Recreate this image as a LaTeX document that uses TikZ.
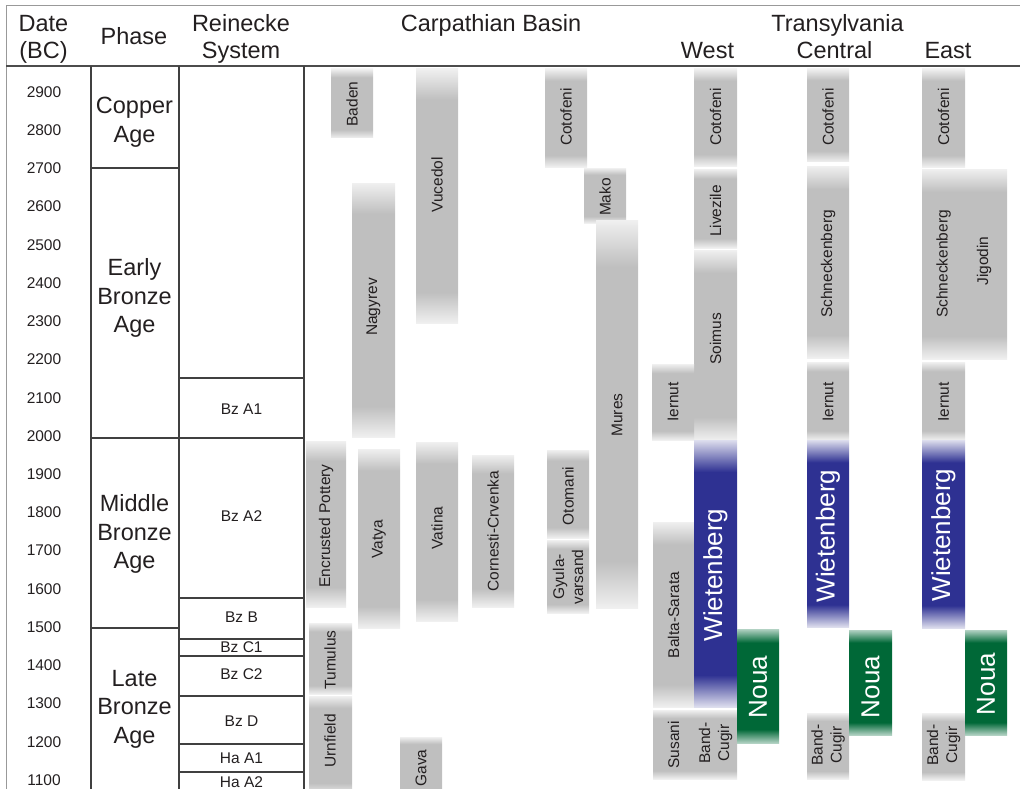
\documentclass[tikz,border=0pt]{standalone}
\usepackage{fontspec}
\setmainfont{Liberation Sans}
\usetikzlibrary{positioning}

\definecolor{txt}{RGB}{35,31,32}
\definecolor{wblue}{RGB}{46,49,146}
\definecolor{ngreen}{RGB}{0,104,55}
\colorlet{grayend}{gray!12}
\colorlet{graymid}{gray!50}
\colorlet{blueend}{wblue!16}
\colorlet{greenend}{ngreen!30}

\pgfdeclareverticalshading{grayfade}{100bp}{color(0bp)=(grayend); color(25bp)=(grayend); color(31bp)=(graymid); color(69bp)=(graymid); color(75bp)=(grayend); color(100bp)=(grayend)}
\pgfdeclareverticalshading{bluefade}{100bp}{color(0bp)=(blueend); color(25bp)=(blueend); color(31bp)=(wblue); color(69bp)=(wblue); color(75bp)=(blueend); color(100bp)=(blueend)}
\pgfdeclareverticalshading{greenfade}{100bp}{color(0bp)=(greenend); color(25bp)=(greenend); color(31bp)=(ngreen); color(69bp)=(ngreen); color(75bp)=(greenend); color(100bp)=(greenend)}

\begin{document}
\begin{tikzpicture}[x=1pt,y=-1pt,
  grid/.style={draw=black!75,line width=1.1pt},
  frame/.style={draw=black!40,line width=0.8pt},
  culture/.style={shading=grayfade},
  wbox/.style={shading=bluefade},
  nbox/.style={shading=greenfade},
  lbl/.style={rotate=90,font=\fontsize{15.5}{19}\selectfont,text=txt,align=center,inner sep=0pt},
  biglbl/.style={rotate=90,font=\fontsize{26}{30}\selectfont,text=white,inner sep=0pt},
  head/.style={font=\fontsize{23.5}{27}\selectfont,text=txt,align=center,inner sep=0pt},
  phase/.style={font=\fontsize{23.5}{28.5}\selectfont,text=txt,align=center,inner sep=0pt},
  small/.style={font=\fontsize{15.5}{19}\selectfont,text=txt,inner sep=0pt}]
  \useasboundingbox (0,0) rectangle (1020,789);

  % frame and header
  \draw[frame] (6,800) -- (6,5) -- (1020,5);
  \draw[draw=black!70,line width=1.6pt] (6,66) -- (1020,66);
  \node[head] (date) at (43.5,39) {Date\\(BC)};
  \node[head,anchor=base] (phase) at (134,45) {Phase};
  \node[head] (reinecke) at (241,39) {Reinecke\\System};
  \node[head,anchor=base] (basin) at (491,31.5) {Carpathian Basin};
  \node[head,anchor=base] (transylvania) at (837.5,31.5) {Transylvania};
  \node[head,anchor=base] (west) at (707.5,59) {West};
  \node[head,anchor=base] (central) at (834.5,59) {Central};
  \node[head,anchor=base] (east) at (948,59) {East};

  % dates
  \foreach \yr in {2900,2800,...,1100}
    \node[small] (d\yr) at (44,{92+(2900-\yr)*0.3822}) {\yr};

  % phases
  \draw[grid] (91,66) -- (91,800);
  \draw[grid] (179,66) -- (179,800);
  \draw[grid] (304,66) -- (304,800);
  \draw[grid] (91,168) -- (179,168);
  \draw[grid] (91,438) -- (179,438);
  \draw[grid] (91,628) -- (179,628);
  \node[phase] (copper) at (134.5,122) {Copper\\Age};
  \node[phase] (early) at (134.5,298) {Early\\Bronze\\Age};
  \node[phase] (middle) at (134.5,534) {Middle\\Bronze\\Age};
  \node[phase] (late) at (134.5,709) {Late\\Bronze\\Age};

  % Reinecke
  \foreach \yy in {378,438,598,639,656,696,744,772}
    \draw[grid] (179,\yy) -- (304,\yy);
  \node[small] (bza1) at (241.5,409) {Bz A1};
  \node[small] (bza2) at (241.5,516) {Bz A2};
  \node[small] (bzb) at (241.5,617) {Bz B};
  \node[small] (bzc1) at (241.5,647.5) {Bz C1};
  \node[small] (bzc2) at (241.5,674) {Bz C2};
  \node[small] (bzd) at (241.5,721) {Bz D};
  \node[small] (haa1) at (241.5,758) {Ha A1};
  \node[small] (haa2) at (241.5,782) {Ha A2};

  % Carpathian Basin
  \shade[culture] (331,69) rectangle (373,138);  \node[lbl] (baden) at (352,104) {Baden};
  \shade[culture] (416,69) rectangle (458,323);  \node[lbl] (vucedol) at (437,185) {Vucedol};
  \shade[culture] (352,183) rectangle (395,437); \node[lbl] (nagyrev) at (373.5,307) {Nagyrev};
  \shade[culture] (545,69) rectangle (587,167);  \node[lbl] (cotofeniCB) at (566,117) {Cotofeni};
  \shade[culture] (584,168) rectangle (626,223); \node[lbl] (mako) at (605,197) {Mako};
  \shade[culture] (596,220) rectangle (638,608); \node[lbl] (mures) at (617,415) {Mures};
  \shade[culture] (306,441) rectangle (346,607); \node[lbl] (encrusted) at (326,526) {Encrusted Pottery};
  \shade[culture] (358,449) rectangle (400,628); \node[lbl] (vatya) at (379,539) {Vatya};
  \shade[culture] (416,442) rectangle (458,621); \node[lbl] (vatina) at (437,528) {Vatina};
  \shade[culture] (472,455) rectangle (514,607); \node[lbl] (cornesti) at (493,531) {Cornesti-Crvenka};
  \shade[culture] (547,450) rectangle (589,538); \node[lbl] (otomani) at (568,496) {Otomani};
  \shade[culture] (547,540) rectangle (589,613); \node[lbl] (gyula) at (568,577) {Gyula-\\varsand};
  \shade[culture] (309,623) rectangle (352,694); \node[lbl] (tumulus) at (330,660) {Tumulus};
  \shade[culture] (309,696) rectangle (352,795); \node[lbl] (urnfield) at (330,741) {Urnfield};
  \shade[culture] (400,737) rectangle (442,795); \node[lbl] (gava) at (421,768) {Gava};

  % Transylvania West
  \shade[culture] (694,69) rectangle (737,166);  \node[lbl] (cotofeniW) at (715.5,117) {Cotofeni};
  \shade[culture] (694,169) rectangle (737,248); \node[lbl] (livezile) at (715.5,211) {Livezile};
  \shade[culture] (694,250) rectangle (737,440); \node[lbl] (soimus) at (715.5,339) {Soimus};
  \shade[culture] (652,364) rectangle (694,440); \node[lbl] (iernutW) at (673,402) {Iernut};
  \shade[culture] (653,522) rectangle (694,707); \node[lbl] (baltasarata) at (673.5,615) {Balta-Sarata};
  \shade[culture] (653,710) rectangle (694,779); \node[lbl] (susani) at (673.5,745) {Susani};
  \shade[culture] (694,710) rectangle (737,779); \node[lbl] (bandcugirW) at (715.5,743) {Band-\\Cugir};
  \shade[wbox] (694,440) rectangle (737,707);    \node[biglbl] (wietenbergW) at (715.5,575) {Wietenberg};
  \shade[nbox] (737,629) rectangle (779,743);    \node[biglbl] (nouaW) at (758,687) {Noua};

  % Transylvania Central
  \shade[culture] (807,69) rectangle (849,162);  \node[lbl] (cotofeniC) at (828,117) {Cotofeni};
  \shade[culture] (807,166) rectangle (849,358); \node[lbl] (schneckenbergC) at (828,264) {Schneckenberg};
  \shade[culture] (807,362) rectangle (849,440); \node[lbl] (iernutC) at (828,402) {Iernut};
  \shade[culture] (807,713) rectangle (849,779); \node[lbl] (bandcugirC) at (828,745) {Band-\\Cugir};
  \shade[wbox] (807,440) rectangle (849,627);    \node[biglbl] (wietenbergC) at (828,536) {Wietenberg};
  \shade[nbox] (849,630) rectangle (892,735);    \node[biglbl] (nouaC) at (870.5,687) {Noua};

  % Transylvania East
  \shade[culture] (922,69) rectangle (965,167);   \node[lbl] (cotofeniE) at (943.5,117) {Cotofeni};
  \shade[culture] (922,169) rectangle (1007,359); \node[lbl] (schneckenbergE) at (943.5,264) {Schneckenberg};
  \node[lbl] (jigodin) at (984,261) {Jigodin};
  \shade[culture] (922,362) rectangle (965,440);  \node[lbl] (iernutE) at (943.5,402) {Iernut};
  \shade[culture] (922,713) rectangle (965,780);  \node[lbl] (bandcugirE) at (943.5,745) {Band-\\Cugir};
  \shade[wbox] (922,440) rectangle (965,628);     \node[biglbl] (wietenbergE) at (943.5,535) {Wietenberg};
  \shade[nbox] (965,630) rectangle (1007,735);    \node[biglbl] (nouaE) at (986,684) {Noua};
\end{tikzpicture}
\end{document}
